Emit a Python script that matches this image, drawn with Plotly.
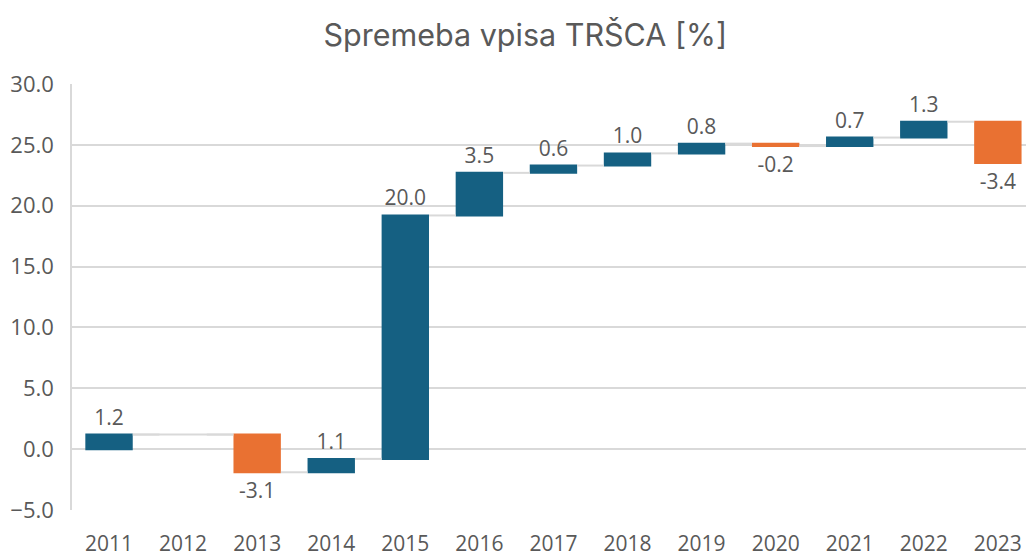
import plotly.graph_objects as go
from itertools import accumulate

years = ["2011", "2012", "2013", "2014", "2015", "2016", "2017",
         "2018", "2019", "2020", "2021", "2022", "2023"]
changes = [1.2, 0.0, -3.1, 1.1, 20.0, 3.5, 0.6, 1.0, 0.8, -0.2, 0.7, 1.3, -3.4]
labels = ["" if v == 0 else f"{v:.1f}" for v in changes]
cumulative = list(accumulate(changes))

BLUE = "#156082"
ORANGE = "#E97132"
GRID = "#D9D9D9"
TEXT = "#595959"
BAR_W = 0.64

fig = go.Figure(go.Waterfall(
    x=years,
    y=changes,
    measure=["relative"] * len(years),
    text=labels,
    textposition="outside",
    textfont=dict(family="Open Sans", size=21, color=TEXT),
    increasing=dict(marker=dict(color=BLUE)),
    decreasing=dict(marker=dict(color=ORANGE)),
    connector=dict(line=dict(color=GRID, width=2), mode="between"),
    width=BAR_W,
    cliponaxis=False,
    hoverinfo="skip",
))

# continuous connector across the zero-change year
for i, v in enumerate(changes):
    if v == 0 and 0 < i < len(changes) - 1:
        fig.add_shape(type="line", xref="x", yref="y",
                      x0=i - 1 + BAR_W / 2, x1=i + 1 - BAR_W / 2,
                      y0=cumulative[i], y1=cumulative[i],
                      line=dict(color=GRID, width=2), layer="below")

fig.update_layout(
    width=1026, height=556,
    paper_bgcolor="white", plot_bgcolor="white",
    margin=dict(l=72, r=0, t=84, b=46),
    showlegend=False,
    title=dict(text="Spremeba vpisa TRŠCA [%]", x=0.512, xref="container",
               xanchor="center", y=0.937, yanchor="middle",
               font=dict(family="Inter", size=30.5, color=TEXT)),
    font=dict(family="Open Sans", color=TEXT),
)
fig.update_yaxes(range=[-5, 30], dtick=5, tickformat=".1f",
                 showgrid=True, gridcolor=GRID, gridwidth=1.5,
                 zeroline=True, zerolinecolor=GRID, zerolinewidth=1.5,
                 showline=True, linecolor=GRID, linewidth=1.5,
                 tickfont=dict(family="Open Sans", size=22, color=TEXT),
                 ticklabelstandoff=12, ticks="", automargin=False)
fig.update_xaxes(range=[-0.5, 12.38], showgrid=False, showline=False,
                 tickfont=dict(family="Open Sans", size=21, color=TEXT),
                 ticklabelstandoff=19, ticks="", automargin=False)

fig.write_html("out.html",
               config=dict(displayModeBar=False),
               post_script="document.body.style.margin='0';"
                           "document.body.style.overflow='hidden';")
